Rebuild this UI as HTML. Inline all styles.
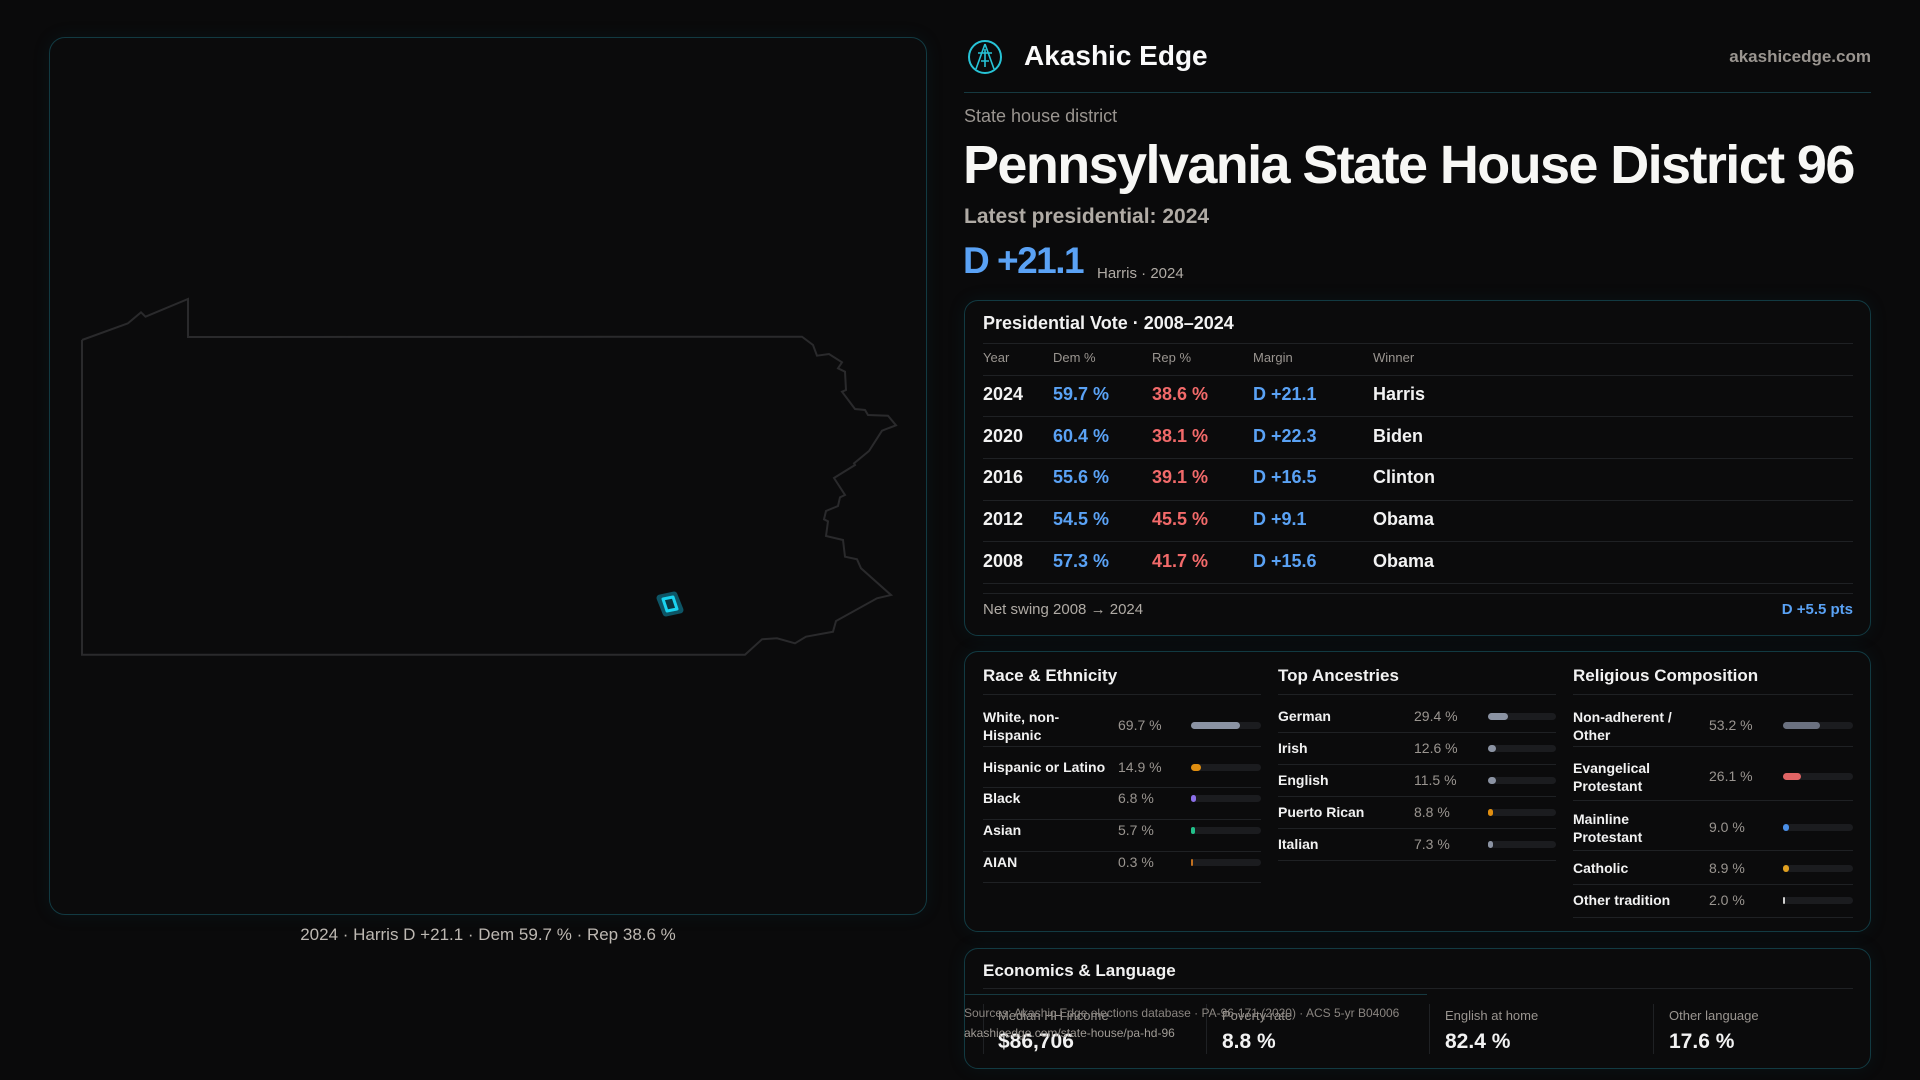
<!DOCTYPE html>
<html><head><meta charset="utf-8"><style>
*{margin:0;padding:0;box-sizing:border-box}
body{width:1920px;height:1080px;background:#0a0a0b;font-family:"Liberation Sans",sans-serif;color:#f2f2f2;position:relative;overflow:hidden}
.a{position:absolute;white-space:nowrap}
.card{position:absolute;background:#0b0b0c;border:1px solid #123a42;border-radius:14px;box-shadow:0 0 18px rgba(20,90,110,0.12)}
.hl{position:absolute;height:1px;background:#1f2124}
.g{color:#9a9590}
.b{color:#5aa2f5}
.r{color:#f26a6a}
.track{position:absolute;height:7px;border-radius:4px;background:#1b1c1f}
.fill{position:absolute;left:0;top:0;height:7px;border-radius:4px}
</style></head><body>

<!-- map panel -->
<div class="card" style="left:49px;top:37px;width:878px;height:878px;background:#0b0b0c;border-radius:16px"></div>
<svg class="a" style="left:0;top:0" width="960" height="1000">
<polyline fill="none" stroke="#2a2a2c" stroke-width="2" points="82,340 128,323.3 141,312.3 145.5,316.7 188,299 188,337 802,336.7 813,345 817,355.7 829,354 842,362.3 838,368.3 845,371.7 846,390 842,391.7 855,409 865,410 868,415 888,415.7 896,425.3 882,430.7 869,451 854,463.3 855,465 834,478 845,495 840,497.3 838,506 826,511 824,519.3 828,521.3 826,536 843,540 845,556.7 857,559.3 861,568.3 891,595 877,598.3 836,621 833,631.7 806,636.7 795,643.3 777,638.3 762,639.3 745,654.7 82,654.7 82,340"/>
<polygon points="660,598 674,595 680,610 666,613" fill="#0a6f82" stroke="#0d5566" stroke-width="7" stroke-linejoin="round"/>
<polygon points="663,599 673,597 677,609 667,611" fill="#0b3640" stroke="#1ad4f0" stroke-width="3" stroke-linejoin="round"/>
</svg>
<div class="a" style="left:0;width:976px;text-align:center;top:925px;font-size:17px;color:#bdb8b2">2024 · Harris D +21.1 · Dem 59.7 % · Rep 38.6 %</div>

<!-- header -->
<svg class="a" style="left:967px;top:39px" width="36" height="36"><circle cx="18" cy="18" r="16" fill="none" stroke="#27c3d6" stroke-width="2"/><path d="M18 5 L9 30 M18 5 L27 30 M11 14 L25 14 M18 10 V28 M14 22 L22 22" stroke="#27c3d6" stroke-width="1.6" fill="none"/></svg>
<div class="a" style="left:1024px;top:40px;font-size:28px;font-weight:bold;color:#fafafa">Akashic Edge</div>
<div class="a" style="right:49px;top:47px;font-size:17px;font-weight:bold;color:#9a9590">akashicedge.com</div>
<div class="hl" style="left:964px;width:907px;top:92px;background:#163940"></div>
<div class="a g" style="left:964px;top:106px;font-size:18px">State house district</div>
<div class="a" style="left:963px;top:134px;font-size:54px;font-weight:bold;letter-spacing:-1.6px;color:#f7f7f5">Pennsylvania State House District 96</div>
<div class="a" style="left:964px;top:205px;font-size:21px;font-weight:bold;color:#b0aba5">Latest presidential: 2024</div>
<div class="a b" style="left:963px;top:240px;font-size:37px;font-weight:bold;letter-spacing:-1.5px">D +21.1</div>
<div class="a" style="left:1097px;top:265px;font-size:15px;color:#b0aba5">Harris · 2024</div>

<!-- presidential table -->
<div class="card" style="left:964px;top:300px;width:907px;height:336px"></div>
<div class="a" style="left:983px;top:313px;font-size:18px;font-weight:bold">Presidential Vote · 2008–2024</div>
<div class="hl" style="left:983px;width:870px;top:343px"></div>
<div class="a g" style="left:983px;top:350px;font-size:13px">Year</div>
<div class="a g" style="left:1053px;top:350px;font-size:13px">Dem %</div>
<div class="a g" style="left:1152px;top:350px;font-size:13px">Rep %</div>
<div class="a g" style="left:1253px;top:350px;font-size:13px">Margin</div>
<div class="a g" style="left:1373px;top:350px;font-size:13px">Winner</div>
<div class="hl" style="left:983px;width:870px;top:375px"></div>

<div style="position:absolute;left:0;top:384px;font-size:18px;font-weight:bold">
<div class="a" style="left:983px;top:0">2024</div><div class="a b" style="left:1053px;top:0">59.7 %</div><div class="a r" style="left:1152px;top:0">38.6 %</div><div class="a b" style="left:1253px;top:0">D +21.1</div><div class="a" style="left:1373px;top:0">Harris</div>
<div class="a" style="left:983px;top:42px">2020</div><div class="a b" style="left:1053px;top:42px">60.4 %</div><div class="a r" style="left:1152px;top:42px">38.1 %</div><div class="a b" style="left:1253px;top:42px">D +22.3</div><div class="a" style="left:1373px;top:42px">Biden</div>
<div class="a" style="left:983px;top:83px">2016</div><div class="a b" style="left:1053px;top:83px">55.6 %</div><div class="a r" style="left:1152px;top:83px">39.1 %</div><div class="a b" style="left:1253px;top:83px">D +16.5</div><div class="a" style="left:1373px;top:83px">Clinton</div>
<div class="a" style="left:983px;top:125px">2012</div><div class="a b" style="left:1053px;top:125px">54.5 %</div><div class="a r" style="left:1152px;top:125px">45.5 %</div><div class="a b" style="left:1253px;top:125px">D +9.1</div><div class="a" style="left:1373px;top:125px">Obama</div>
<div class="a" style="left:983px;top:167px">2008</div><div class="a b" style="left:1053px;top:167px">57.3 %</div><div class="a r" style="left:1152px;top:167px">41.7 %</div><div class="a b" style="left:1253px;top:167px">D +15.6</div><div class="a" style="left:1373px;top:167px">Obama</div>
</div>
<div class="hl" style="left:983px;width:870px;top:416px"></div>
<div class="hl" style="left:983px;width:870px;top:458px"></div>
<div class="hl" style="left:983px;width:870px;top:500px"></div>
<div class="hl" style="left:983px;width:870px;top:541px"></div>
<div class="hl" style="left:983px;width:870px;top:583px"></div>
<div class="hl" style="left:983px;width:870px;top:593px"></div>
<div class="a" style="left:983px;top:601px;font-size:15px;color:#b0aba5">Net swing 2008 → 2024</div>
<div class="a b" style="right:67px;top:601px;font-size:15px;font-weight:bold">D +5.5 pts</div>

<!-- demographics -->
<div class="card" style="left:964px;top:651px;width:907px;height:281px"></div>
<div class="a" style="left:983px;top:666px;font-size:17px;font-weight:bold">Race &amp; Ethnicity</div>
<div class="a" style="left:1278px;top:666px;font-size:17px;font-weight:bold">Top Ancestries</div>
<div class="a" style="left:1573px;top:666px;font-size:17px;font-weight:bold">Religious Composition</div>
<div class="hl" style="left:983px;width:278px;top:694px"></div>
<div class="hl" style="left:1278px;width:278px;top:694px"></div>
<div class="hl" style="left:1573px;width:280px;top:694px"></div>

<div style="position:absolute;left:0;top:0;font-size:14px;font-weight:bold">
<div class="a" style="left:983px;top:708px;line-height:18px">White, non-<br>Hispanic</div><div class="a g" style="left:1118px;top:717px;font-weight:normal">69.7 %</div>
<div class="track" style="left:1191px;top:722px;width:70px"><div class="fill" style="width:49px;background:#8b93a3"></div></div>
<div class="hl" style="left:983px;width:278px;top:746px"></div>
<div class="a" style="left:983px;top:759px">Hispanic or Latino</div><div class="a g" style="left:1118px;top:759px;font-weight:normal">14.9 %</div>
<div class="track" style="left:1191px;top:764px;width:70px"><div class="fill" style="width:10px;background:#e08e10"></div></div>
<div class="hl" style="left:983px;width:278px;top:787px"></div>
<div class="a" style="left:983px;top:790px">Black</div><div class="a g" style="left:1118px;top:790px;font-weight:normal">6.8 %</div>
<div class="track" style="left:1191px;top:795px;width:70px"><div class="fill" style="width:5px;background:#8b6fe8"></div></div>
<div class="hl" style="left:983px;width:278px;top:819px"></div>
<div class="a" style="left:983px;top:822px">Asian</div><div class="a g" style="left:1118px;top:822px;font-weight:normal">5.7 %</div>
<div class="track" style="left:1191px;top:827px;width:70px"><div class="fill" style="width:4px;background:#22c08a"></div></div>
<div class="hl" style="left:983px;width:278px;top:851px"></div>
<div class="a" style="left:983px;top:854px">AIAN</div><div class="a g" style="left:1118px;top:854px;font-weight:normal">0.3 %</div>
<div class="track" style="left:1191px;top:859px;width:70px"><div class="fill" style="width:2px;background:#c07020"></div></div>
<div class="hl" style="left:983px;width:278px;top:882px"></div>
<div class="a" style="left:1278px;top:708px">German</div><div class="a g" style="left:1414px;top:708px;font-weight:normal">29.4 %</div>
<div class="track" style="left:1488px;top:713px;width:68px"><div class="fill" style="width:20px;background:#8b93a3"></div></div>
<div class="hl" style="left:1278px;width:278px;top:732px"></div>
<div class="a" style="left:1278px;top:740px">Irish</div><div class="a g" style="left:1414px;top:740px;font-weight:normal">12.6 %</div>
<div class="track" style="left:1488px;top:745px;width:68px"><div class="fill" style="width:8px;background:#8b93a3"></div></div>
<div class="hl" style="left:1278px;width:278px;top:764px"></div>
<div class="a" style="left:1278px;top:772px">English</div><div class="a g" style="left:1414px;top:772px;font-weight:normal">11.5 %</div>
<div class="track" style="left:1488px;top:777px;width:68px"><div class="fill" style="width:8px;background:#8b93a3"></div></div>
<div class="hl" style="left:1278px;width:278px;top:796px"></div>
<div class="a" style="left:1278px;top:804px">Puerto Rican</div><div class="a g" style="left:1414px;top:804px;font-weight:normal">8.8 %</div>
<div class="track" style="left:1488px;top:809px;width:68px"><div class="fill" style="width:5px;background:#e08e10"></div></div>
<div class="hl" style="left:1278px;width:278px;top:828px"></div>
<div class="a" style="left:1278px;top:836px">Italian</div><div class="a g" style="left:1414px;top:836px;font-weight:normal">7.3 %</div>
<div class="track" style="left:1488px;top:841px;width:68px"><div class="fill" style="width:5px;background:#8b93a3"></div></div>
<div class="hl" style="left:1278px;width:278px;top:860px"></div>
<div class="a" style="left:1573px;top:708px;line-height:18px">Non-adherent /<br>Other</div><div class="a g" style="left:1709px;top:717px;font-weight:normal">53.2 %</div>
<div class="track" style="left:1783px;top:722px;width:70px"><div class="fill" style="width:37px;background:#6b7180"></div></div>
<div class="hl" style="left:1573px;width:280px;top:746px"></div>
<div class="a" style="left:1573px;top:759px;line-height:18px">Evangelical<br>Protestant</div><div class="a g" style="left:1709px;top:768px;font-weight:normal">26.1 %</div>
<div class="track" style="left:1783px;top:773px;width:70px"><div class="fill" style="width:18px;background:#e06464"></div></div>
<div class="hl" style="left:1573px;width:280px;top:800px"></div>
<div class="a" style="left:1573px;top:810px;line-height:18px">Mainline<br>Protestant</div><div class="a g" style="left:1709px;top:819px;font-weight:normal">9.0 %</div>
<div class="track" style="left:1783px;top:824px;width:70px"><div class="fill" style="width:6px;background:#4a8fe8"></div></div>
<div class="hl" style="left:1573px;width:280px;top:850px"></div>
<div class="a" style="left:1573px;top:860px">Catholic</div><div class="a g" style="left:1709px;top:860px;font-weight:normal">8.9 %</div>
<div class="track" style="left:1783px;top:865px;width:70px"><div class="fill" style="width:6px;background:#e0a020"></div></div>
<div class="hl" style="left:1573px;width:280px;top:884px"></div>
<div class="a" style="left:1573px;top:892px">Other tradition</div><div class="a g" style="left:1709px;top:892px;font-weight:normal">2.0 %</div>
<div class="track" style="left:1783px;top:897px;width:70px"><div class="fill" style="width:2px;background:#cfcfcf"></div></div>
<div class="hl" style="left:1573px;width:280px;top:917px"></div>
</div>

<!-- economics -->
<div class="card" style="left:964px;top:948px;width:907px;height:121px"></div>
<div class="a" style="left:983px;top:961px;font-size:17px;font-weight:bold">Economics &amp; Language</div>
<div class="hl" style="left:983px;width:870px;top:988px"></div>
<div class="hl" style="left:964px;width:463px;top:994px;background:#163940"></div>
<div style="position:absolute;left:983px;top:1004px;width:1px;height:50px;background:#1f2124"></div>
<div style="position:absolute;left:1206px;top:1004px;width:1px;height:50px;background:#1f2124"></div>
<div style="position:absolute;left:1429px;top:1004px;width:1px;height:50px;background:#1f2124"></div>
<div style="position:absolute;left:1653px;top:1004px;width:1px;height:50px;background:#1f2124"></div>
<div class="a g" style="left:998px;top:1008px;font-size:13px">Median HH income</div>
<div class="a" style="left:998px;top:1030px;font-size:21px;font-weight:bold">$86,706</div>
<div class="a g" style="left:1222px;top:1008px;font-size:13px">Poverty rate</div>
<div class="a" style="left:1222px;top:1030px;font-size:21px;font-weight:bold">8.8 %</div>
<div class="a g" style="left:1445px;top:1008px;font-size:13px">English at home</div>
<div class="a" style="left:1445px;top:1030px;font-size:21px;font-weight:bold">82.4 %</div>
<div class="a g" style="left:1669px;top:1008px;font-size:13px">Other language</div>
<div class="a" style="left:1669px;top:1030px;font-size:21px;font-weight:bold">17.6 %</div>
<div class="a" style="left:964px;top:1006px;font-size:12px;color:#8a8580">Sources: Akashic Edge elections database · PA-96-171 (2020) · ACS 5-yr B04006</div>
<div class="a" style="left:964px;top:1026px;font-size:12px;color:#a09b95">akashicedge.com/state-house/pa-hd-96</div>
</body></html>
